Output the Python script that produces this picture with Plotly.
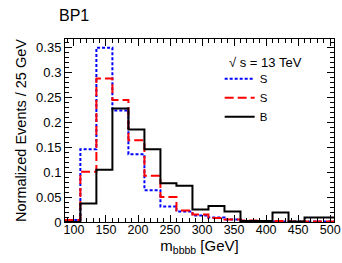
import plotly.graph_objects as go

bin_edges = [85, 110, 135, 160, 185, 210, 235, 260, 285, 310, 335, 360, 385, 410, 435, 460, 485, 510]
s_dotted = [0.004, 0.146, 0.350, 0.224, 0.136, 0.064, 0.031, 0.021, 0.013, 0.009, 0.005, 0.002, 0.002, 0.001, 0.001, 0.001, 0.001]
s_dashed = [0.004, 0.101, 0.288, 0.245, 0.164, 0.093, 0.050, 0.023, 0.015, 0.008, 0.005, 0.003, 0.002, 0.002, 0.001, 0.001, 0.001]
b_solid = [0.000, 0.037, 0.105, 0.228, 0.186, 0.146, 0.078, 0.073, 0.025, 0.032, 0.021, 0.002, 0.002, 0.019, 0.001, 0.009, 0.009]
names = ["S", "S", "B"]
x_ticks = [100, 150, 200, 250, 300, 350, 400, 450, 500]
x_tick_text = ["100", "150", "200", "250", "300", "350", "400", "450", "500"]
y_ticks = [0, 0.05, 0.1, 0.15, 0.2, 0.25, 0.3, 0.35]
y_tick_text = ["0", "0.05", "0.1", "0.15", "0.2", "0.25", "0.3", "0.35"]

FONT = "Liberation Sans, Arial, sans-serif"

fig = go.Figure()
styles = [
    dict(color="#0000ff", width=2, dash="3px,2px"),
    dict(color="#ff0000", width=2, dash="9px,4px"),
    dict(color="#000000", width=2, dash="solid"),
]
for vals, name, st in zip([s_dotted, s_dashed, b_solid], names, styles):
    fig.add_trace(go.Scatter(
        x=bin_edges, y=vals + [vals[-1]], mode="lines", line_shape="hv",
        line=st, name=name, showlegend=True,
    ))

axis_common = dict(
    showline=True, linecolor="black", linewidth=1, mirror="allticks",
    ticks="inside", ticklen=7, tickcolor="black", tickwidth=1,
    showgrid=False, zeroline=False,
)
fig.update_xaxes(
    range=[86, 506], tickvals=x_ticks, ticktext=x_tick_text,
    tickfont=dict(family=FONT, size=12.5, color="black"),
    ticklabelstandoff=-4, ticklabeloverflow="allow",
    minor=dict(dtick=10, ticks="inside", ticklen=4, tickcolor="black", showgrid=False),
    title=dict(text="m<sub>bbbb</sub> [GeV]", font=dict(family=FONT, size=15, color="black"), standoff=3),
    **axis_common,
)
fig.update_yaxes(
    range=[0, 0.3675], tickvals=y_ticks, ticktext=y_tick_text,
    tickfont=dict(family=FONT, size=13, color="black"),
    minor=dict(dtick=0.01, ticks="inside", ticklen=4, tickcolor="black", showgrid=False),
    title=dict(text="Normalized Events / 25 GeV", font=dict(family=FONT, size=14.5, color="black"), standoff=6),
    **axis_common,
)

fig.add_annotation(
    text="√ s = 13 TeV", xref="paper", yref="paper", x=0.602, y=0.874,
    xanchor="left", yanchor="middle", showarrow=False,
    font=dict(family=FONT, size=13, color="black"),
)

fig.update_layout(
    width=342, height=263,
    margin=dict(l=65, r=8, t=39, b=41, autoexpand=False),
    paper_bgcolor="white", plot_bgcolor="white",
    font=dict(family=FONT, color="black"),
    title=dict(text="BP1", x=59/342, xanchor="left", y=1-15/263, yanchor="middle",
               font=dict(family=FONT, size=16, color="black")),
    legend=dict(
        x=0.575, y=0.862, xanchor="left", yanchor="top",
        bgcolor="rgba(0,0,0,0)", borderwidth=0,
        font=dict(family=FONT, size=11.5, color="black"),
        tracegroupgap=0, itemwidth=30,
    ),
)

fig.write_html("out.html", config={"displayModeBar": False},
               post_script="document.body.style.margin='0';document.body.style.overflow='hidden';")
